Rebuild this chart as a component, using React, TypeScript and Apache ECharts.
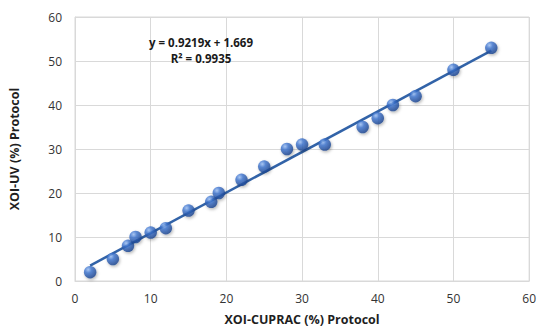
import React, { useEffect, useRef } from "react";
import * as echarts from "echarts";

const cupracValues = [2, 5, 7, 8, 10, 12, 15, 18, 19, 22, 25, 28, 30, 33, 38, 40, 42, 45, 50, 55];
const uvValues = [2, 5, 8, 10, 11, 12, 16, 18, 20, 23, 26, 30, 31, 31, 35, 37, 40, 42, 48, 53];
const slope = 0.9219;
const intercept = 1.669;
const trendX = [2, 55];
const equationText = "y = 0.9219x + 1.669";
const r2Text = "R² = 0.9935";

export default function App() {
  const ref = useRef<HTMLDivElement>(null);
  useEffect(() => {
    document.body.style.margin = "0";
    document.body.style.overflow = "hidden";
    document.documentElement.style.overflow = "hidden";
    const chart = echarts.init(ref.current!, null, { renderer: "svg", width: 539, height: 331 });
    const points = cupracValues.map((x, i) => [x, uvValues[i]]);
    const trend = trendX.map((x) => [x, slope * x + intercept]);
    const font = "'Open Sans', 'Liberation Sans', sans-serif";
    chart.setOption({
      animation: false,
      backgroundColor: "#ffffff",
      grid: { left: 72, right: 6.5, top: 17, bottom: 46, show: true, borderColor: "#d9d9d9", borderWidth: 1 },
      xAxis: {
        type: "value",
        min: 0,
        max: 60,
        interval: 10,
        name: "XOI-CUPRAC (%) Protocol",
        nameLocation: "middle",
        nameGap: 32,
        nameTextStyle: { fontFamily: font, fontWeight: "bold", fontSize: 12.5, color: "#1f1f1f" },
        axisLine: { show: true, lineStyle: { color: "#d9d9d9" } },
        axisTick: { show: false },
        axisLabel: { fontFamily: font, fontSize: 12, color: "#333333", margin: 11 },
        splitLine: { show: true, lineStyle: { color: "#d9d9d9", width: 1 } },
      },
      yAxis: {
        type: "value",
        min: 0,
        max: 60,
        interval: 10,
        name: "XOI-UV (%) Protocol",
        nameLocation: "middle",
        nameGap: 54,
        nameTextStyle: { fontFamily: font, fontWeight: "bold", fontSize: 12.5, color: "#1f1f1f" },
        axisLine: { show: true, lineStyle: { color: "#d9d9d9" } },
        axisTick: { show: false },
        axisLabel: { fontFamily: font, fontSize: 12, color: "#333333", margin: 13 },
        splitLine: { show: true, lineStyle: { color: "#d9d9d9", width: 1 } },
      },
      series: [
        {
          type: "line",
          data: trend,
          symbol: "none",
          lineStyle: { color: "#3263a8", width: 2.5 },
          z: 2,
        },
        {
          type: "scatter",
          data: points,
          symbol: "circle",
          symbolSize: 12.5,
          itemStyle: {
            color: new echarts.graphic.RadialGradient(0.35, 0.3, 0.75, [
              { offset: 0, color: "#9cc0f5" },
              { offset: 0.35, color: "#3d74cf" },
              { offset: 1, color: "#173f88" },
            ]),
            shadowBlur: 3,
            shadowColor: "rgba(0,0,0,0.35)",
            shadowOffsetX: 1,
            shadowOffsetY: 1.5,
          },
          z: 3,
        },
      ],
      graphic: [
        {
          type: "text",
          x: 201,
          y: 42,
          z: 10,
          style: {
            text: equationText,
            fontFamily: font,
            fontWeight: "bold",
            fontSize: 11.5,
            fill: "#1a1a1a",
            align: "center",
            verticalAlign: "middle",
          },
        },
        {
          type: "text",
          x: 201,
          y: 58,
          z: 10,
          style: {
            text: r2Text,
            fontFamily: font,
            fontWeight: "bold",
            fontSize: 11.5,
            fill: "#1a1a1a",
            align: "center",
            verticalAlign: "middle",
          },
        },
      ],
    });
    return () => chart.dispose();
  }, []);
  return <div ref={ref} style={{ width: 539, height: 331 }} />;
}
